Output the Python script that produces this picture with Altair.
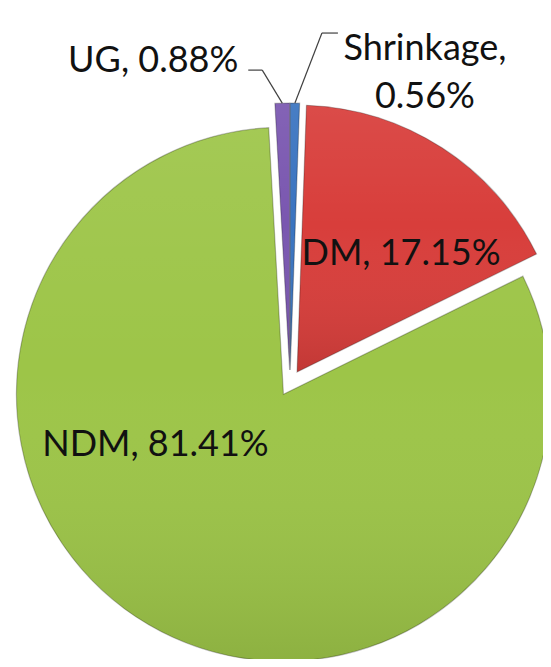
import altair as alt
import pandas as pd

# ---- data ----
categories = ["Shrinkage", "DM", "NDM", "UG"]
values = [0.56, 17.15, 81.41, 0.88]
slice_order = [0, 1, 2, 3]
colors = ["#3A74C0", "#D83E3B", "#9DC548", "#7A57B0"]

df = pd.DataFrame({"category": categories, "value": values, "order": slice_order})

# ---- style / layout ----
W, H = 535, 651
CX, CY = 282, 375
R = 267
EXPLODE = 13
FONT = "Lato"
FS = 36

# label offsets (inside labels relative to slice centre, outside labels relative to slice rim point)
lab_dx = {"Shrinkage": 130, "DM": 104, "NDM": -128, "UG": -44}
lab_dy = {"Shrinkage": -54, "DM": -118, "NDM": 51, "UG": -42}
elbow_dx = {"Shrinkage": 27, "UG": -20}
elbow_dy = {"Shrinkage": -70, "UG": -33}
hend_dx = {"Shrinkage": 43, "UG": -34}


def lookup(d, default=0):
    expr = str(default)
    for k, v in d.items():
        expr = f"datum.category == '{k}' ? {v} : ({expr})"
    return expr


base = (
    alt.Chart(df)
    .transform_joinaggregate(total="sum(value)")
    .transform_window(cum="sum(value)", sort=[alt.SortField("order")], frame=[None, 0])
    .transform_calculate(c1="datum.cum / datum.total * 100")
    .transform_calculate(c0="(datum.cum - datum.value) / datum.total * 100")
    .transform_calculate(mid="(datum.cum - datum.value / 2) / datum.total * 2 * PI")
    .transform_calculate(sx=f"{CX} + {EXPLODE} * sin(datum.mid)")
    .transform_calculate(sy=f"{CY} - {EXPLODE} * cos(datum.mid)")
    .transform_calculate(ox=f"datum.sx + {R} * sin(datum.mid)")
    .transform_calculate(oy=f"datum.sy - {R} * cos(datum.mid)")
    .transform_calculate(outside="datum.value < 2")
    .transform_calculate(
        lx=f"(datum.outside ? datum.ox : datum.sx) + ({lookup(lab_dx)})"
    )
    .transform_calculate(
        ly=f"(datum.outside ? datum.oy : datum.sy) + ({lookup(lab_dy)})"
    )
    .transform_calculate(ex=f"datum.ox + ({lookup(elbow_dx)})")
    .transform_calculate(ey=f"datum.oy + ({lookup(elbow_dy)})")
    .transform_calculate(hx=f"datum.ox + ({lookup(hend_dx)})")
    .transform_calculate(
        label="datum.category + ',' + (datum.category == 'Shrinkage' ? '\\n' : ' ') + format(datum.value, '.2f') + '%'"
    )
)

theta_scale = alt.Scale(domain=[0, 100], range=[0, 6.283185307179586])
pos = dict(
    x=alt.X("sx:Q", scale=None, axis=None),
    y=alt.Y("sy:Q", scale=None, axis=None),
    theta=alt.Theta("c0:Q", scale=theta_scale),
    theta2="c1:Q",
)

slices = base.mark_arc(radius=R).encode(
    color=alt.Color(
        "category:N",
        scale=alt.Scale(domain=categories, range=colors),
        legend=None,
    ),
    **pos,
)

shade = base.mark_arc(
    radius=R,
    color=alt.Gradient(
        gradient="linear",
        x1=0, y1=0, x2=0, y2=1,
        stops=[
            alt.GradientStop(color="rgba(255,255,255,0.07)", offset=0),
            alt.GradientStop(color="rgba(255,255,255,0.0)", offset=0.45),
            alt.GradientStop(color="rgba(0,0,0,0.10)", offset=1),
        ],
    ),
    stroke="rgba(0,0,0,0.25)",
    strokeWidth=1.2,
).encode(**pos)

leader_diag = base.transform_filter("datum.outside").mark_rule(
    color="#404040", strokeWidth=1.2
).encode(
    x=alt.X("ox:Q", scale=None, axis=None),
    y=alt.Y("oy:Q", scale=None, axis=None),
    x2="ex:Q",
    y2="ey:Q",
)
leader_h = base.transform_filter("datum.outside").mark_rule(
    color="#404040", strokeWidth=1.2
).encode(
    x=alt.X("ex:Q", scale=None, axis=None),
    y=alt.Y("ey:Q", scale=None, axis=None),
    x2="hx:Q",
    y2="ey:Q",
)

text_center = base.transform_filter("datum.category != 'UG'").mark_text(
    font=FONT, fontSize=FS, color="#111111", align="center", baseline="middle",
    lineBreak="\n", lineHeight=48,
).encode(
    x=alt.X("lx:Q", scale=None, axis=None),
    y=alt.Y("ly:Q", scale=None, axis=None),
    text="label:N",
)
text_right = base.transform_filter("datum.category == 'UG'").mark_text(
    font=FONT, fontSize=FS, color="#111111", align="right", baseline="middle",
).encode(
    x=alt.X("lx:Q", scale=None, axis=None),
    y=alt.Y("ly:Q", scale=None, axis=None),
    text="label:N",
)

chart = (
    alt.layer(slices, shade, leader_diag, leader_h, text_center, text_right)
    .properties(width=W, height=H, padding=0, autosize="none", background="white")
    .configure_view(strokeWidth=0)
)

chart.save("out.html", embed_options={"renderer": "svg", "actions": False})
